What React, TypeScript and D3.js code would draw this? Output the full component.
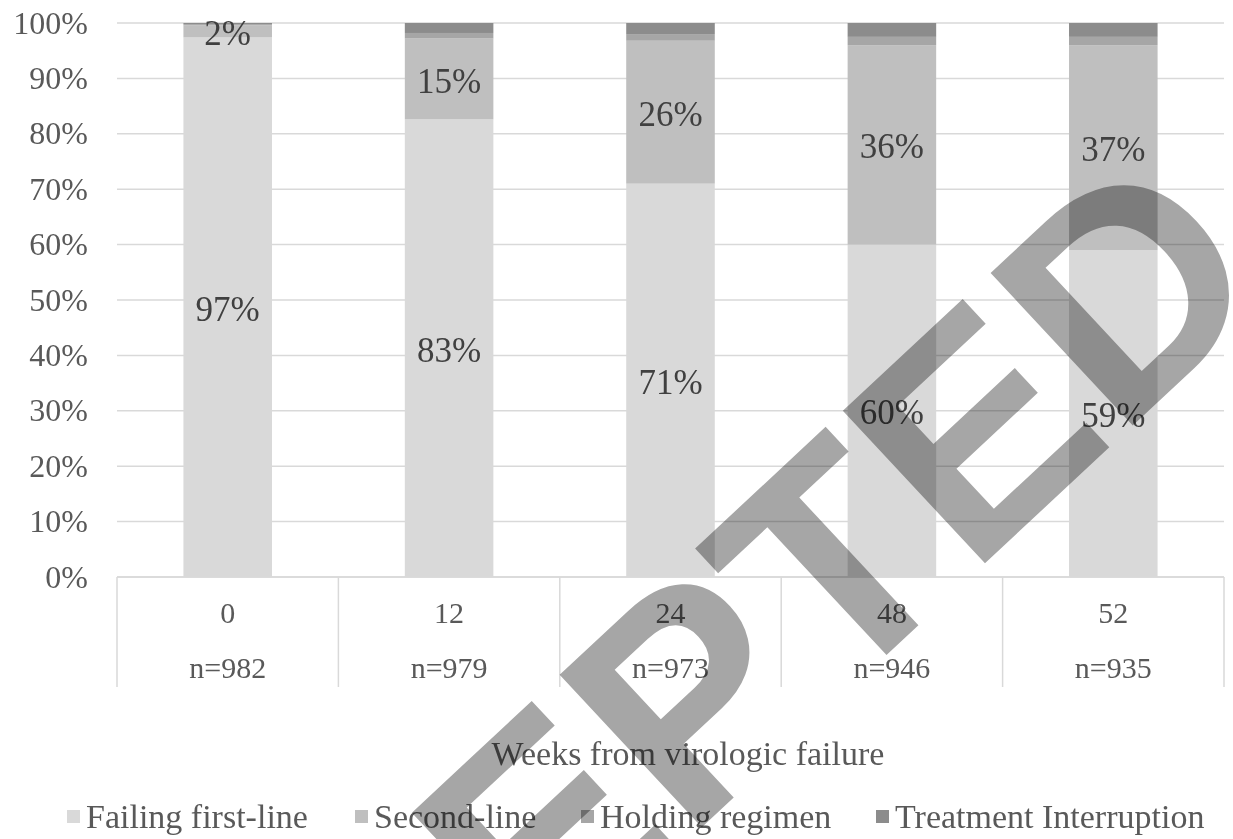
import React, { useEffect, useRef } from 'react';
import * as d3 from 'd3';

const W = 1233;
const H = 839;
const MARGIN = { top: 23, right: 9, bottom: 262, left: 117 };

// weeks from virologic failure, with group sizes under each
const weeks = ['0', '12', '24', '48', '52'];
const nLabels = ['n=982', 'n=979', 'n=973', 'n=946', 'n=935'];

// share of patients (%) per regimen status
const failingFirstLine = [97.4, 82.6, 71, 60, 59];
const secondLine = [2.2, 14.6, 25.8, 36, 37];
const holdingRegimen = [0.2, 1, 1.2, 1.5, 1.5];
const treatmentInterruption = [0.2, 1.8, 2, 2.5, 2.5];

const seriesNames = ['Failing first-line', 'Second-line', 'Holding regimen', 'Treatment Interruption'];
const seriesColors = ['#d9d9d9', '#bfbfbf', '#a6a6a6', '#8c8c8c'];
const yTicks = [0, 10, 20, 30, 40, 50, 60, 70, 80, 90, 100];

const FONT = '"Liberation Serif", "Times New Roman", serif';

const App: React.FC = () => {
    const svgRef = useRef<SVGSVGElement>(null);

    useEffect(() => {
        if (!svgRef.current) return;
        const width = W - MARGIN.left - MARGIN.right;
        const height = H - MARGIN.top - MARGIN.bottom;

        const svg = d3.select(svgRef.current);
        svg.selectAll('*').remove();
        const g = svg.append('g').attr('transform', `translate(${MARGIN.left},${MARGIN.top})`);

        const x = d3.scaleBand().domain(weeks).range([0, width]).paddingInner(0.6).paddingOuter(0.3);
        const xCat = d3.scaleBand().domain(weeks).range([0, width]);
        const y = d3.scaleLinear().domain([0, 100]).range([height, 0]);

        // grid
        g.selectAll('line.grid').data(yTicks).enter().append('line')
            .attr('x1', 0).attr('x2', width)
            .attr('y1', d => y(d)).attr('y2', d => y(d))
            .attr('stroke', '#d9d9d9').attr('stroke-width', 1.5);

        // y tick labels
        g.selectAll('text.ytick').data(yTicks).enter().append('text')
            .attr('x', -29).attr('y', d => y(d)).attr('dy', '0.33em')
            .attr('text-anchor', 'end')
            .text(d => `${d}%`)
            .style('font-family', FONT).style('font-size', '32px').style('fill', '#595959');

        // stacked data
        const rows = weeks.map((w, i) => ({
            week: w,
            s0: failingFirstLine[i], s1: secondLine[i], s2: holdingRegimen[i], s3: treatmentInterruption[i],
        }));
        const stack = d3.stack<any>().keys(['s0', 's1', 's2', 's3'])(rows);

        stack.forEach((layer, li) => {
            g.selectAll(`rect.l${li}`).data(layer).enter().append('rect')
                .attr('x', d => x(d.data.week)!)
                .attr('width', x.bandwidth())
                .attr('y', d => y(d[1]))
                .attr('height', d => y(d[0]) - y(d[1]))
                .attr('fill', seriesColors[li]);
        });

        // data labels for first two series
        [0, 1].forEach(li => {
            g.selectAll(`text.lab${li}`).data(stack[li]).enter().append('text')
                .attr('x', d => x(d.data.week)! + x.bandwidth() / 2)
                .attr('y', d => (y(d[0]) + y(d[1])) / 2 + 2)
                .attr('dy', '0.33em')
                .attr('text-anchor', 'middle')
                .text(d => `${Math.round(d[1] - d[0])}%`)
                .style('font-family', FONT).style('font-size', '35px').style('fill', '#404040');
        });

        // category axis box
        const boxH = 110;
        g.append('line').attr('x1', 0).attr('x2', width).attr('y1', height).attr('y2', height)
            .attr('stroke', '#d9d9d9').attr('stroke-width', 1.5);
        g.selectAll('line.sep').data([...weeks.map(w => xCat(w)!), width]).enter().append('line')
            .attr('x1', d => d).attr('x2', d => d).attr('y1', height).attr('y2', height + boxH)
            .attr('stroke', '#d9d9d9').attr('stroke-width', 1.5);
        g.selectAll('text.wk').data(weeks).enter().append('text')
            .attr('x', d => xCat(d)! + xCat.bandwidth() / 2).attr('y', height + 36).attr('dy', '0.33em')
            .attr('text-anchor', 'middle').text(d => d)
            .style('font-family', FONT).style('font-size', '30px').style('fill', '#595959');
        g.selectAll('text.nn').data(nLabels).enter().append('text')
            .attr('x', (d, i) => xCat(weeks[i])! + xCat.bandwidth() / 2).attr('y', height + 91).attr('dy', '0.33em')
            .attr('text-anchor', 'middle').text(d => d)
            .style('font-family', FONT).style('font-size', '30px').style('fill', '#595959');

        // axis title
        svg.append('text').attr('x', 688).attr('y', 754).attr('dy', '0.33em')
            .attr('text-anchor', 'middle').text('Weeks from virologic failure')
            .style('font-family', FONT).style('font-size', '34px').style('fill', '#595959');

        // legend
        const legendX = [86, 374, 600, 895];
        const lg = svg.append('g');
        seriesNames.forEach((name, i) => {
            lg.append('rect').attr('x', legendX[i] - 19).attr('y', 810).attr('width', 13).attr('height', 13)
                .attr('fill', seriesColors[i]);
            lg.append('text').attr('x', legendX[i]).attr('y', 817).attr('dy', '0.33em')
                .text(name)
                .style('font-family', FONT).style('font-size', '34px').style('fill', '#595959');
        });

        // watermark
        svg.append('text')
            .attr('transform', 'translate(1278,290) rotate(-43)')
            .attr('text-anchor', 'end')
            .text('ACCEPTED')
            .style('font-family', '"Liberation Sans", Arial, sans-serif')
            .style('font-weight', '700')
            .style('font-size', '303px')
            .style('fill', '#a6a6a6')
            .style('mix-blend-mode', 'multiply');
    }, []);

    return <svg ref={svgRef} width={W} height={H} style={{ position: 'absolute', left: 0, top: 0, background: '#fff' }} />;
};

export default App;
